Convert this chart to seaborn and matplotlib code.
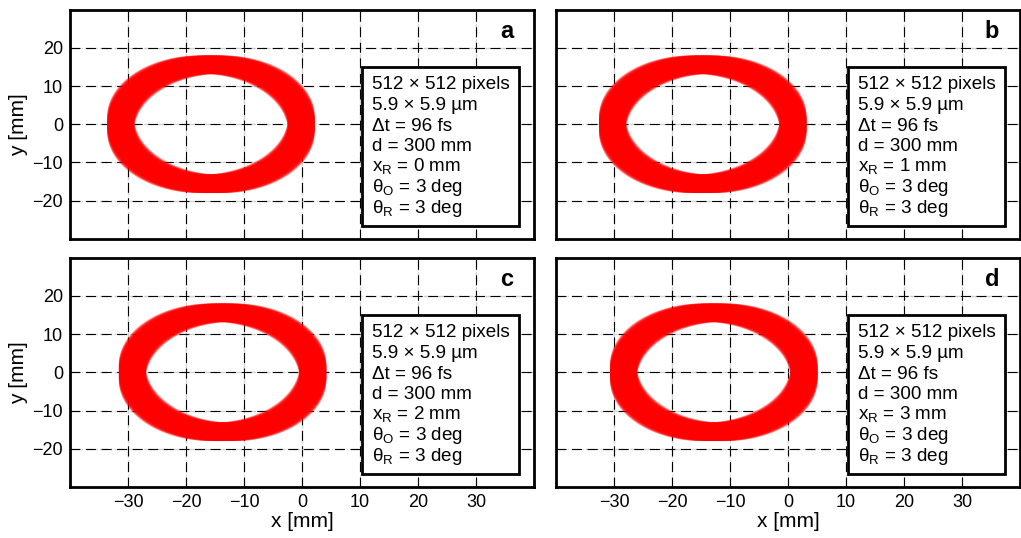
import matplotlib
matplotlib.use("Agg")
import matplotlib.pyplot as plt
from matplotlib.patches import Rectangle
import numpy as np
import pandas as pd
import seaborn as sns

# values
panel_letters = ["a", "b", "c", "d"]
x_r_mm = [0, 1, 2, 3]
ring_centre_x = [-15.7, -14.7, -13.7, -12.8]
ring_centre_y = [0.0, 0.0, 0.0, 0.0]
ring_radius = 15.6
spread_offsets = [-2.1, -1.8, -1.5, -1.2, -0.9, -0.6, -0.3, 0.0,
                  0.3, 0.6, 0.9, 1.2, 1.5, 1.8, 2.1]
x_ticks = [-30, -20, -10, 0, 10, 20, 30]
y_ticks = [-20, -10, 0, 10, 20]
x_limits = (-40, 40)
y_limits = (-30, 30)


def _ring_frame(cx: float, cy: float) -> pd.DataFrame:
    """Family of circles whose centres spread over a small square."""
    theta = np.linspace(0, 2 * np.pi, 181)
    parts = []
    k = 0
    for ox in spread_offsets:
        for oy in spread_offsets:
            parts.append(pd.DataFrame({
                "x": cx + ox + ring_radius * np.cos(theta),
                "y": cy + oy + ring_radius * np.sin(theta),
                "curve": k,
            }))
            k += 1
    return pd.concat(parts, ignore_index=True)


def _info_lines(xr: int) -> list[str]:
    return [
        "512 × 512 pixels",
        "5.9 × 5.9 µm",
        "Δt = 96 fs",
        "d = 300 mm",
        f"x$_\\mathrm{{R}}$ = {xr} mm",
        "θ$_\\mathrm{O}$ = 3 deg",
        "θ$_\\mathrm{R}$ = 3 deg",
    ]


sns.set_theme(style="white")
plt.rcParams["font.family"] = ["Liberation Sans", "DejaVu Sans"]
plt.rcParams["mathtext.fontset"] = "custom"
plt.rcParams["mathtext.rm"] = "Liberation Sans"
plt.rcParams["axes.edgecolor"] = "black"
plt.rcParams["axes.linewidth"] = 2.0
plt.rcParams["text.color"] = "black"
plt.rcParams["axes.labelcolor"] = "black"

fig = plt.figure(figsize=(10.21, 5.38), dpi=100)
lefts = [0.0686, 0.5446]
bottoms = [0.5558, 0.0948]
w, h = 0.4545, 0.4265

for i, letter in enumerate(panel_letters):
    row, col = divmod(i, 2)
    ax = fig.add_axes([lefts[col], bottoms[row], w, h])
    df = _ring_frame(ring_centre_x[i], ring_centre_y[i])
    sns.lineplot(data=df, x="x", y="y", units="curve", estimator=None,
                 sort=False, color="red", alpha=0.35, lw=1.6, ax=ax,
                 legend=False, zorder=3)

    ax.set_xlim(*x_limits)
    ax.set_ylim(*y_limits)
    ax.xaxis.remove_overlapping_locs = False
    ax.yaxis.remove_overlapping_locs = False
    ax.set_xticks(x_ticks)
    ax.set_yticks(y_ticks)
    ax.set_xticks(x_ticks, minor=True)
    ax.set_yticks(y_ticks, minor=True)
    ax.set_axisbelow(True)
    ax.grid(which="major", color="#d4d4d4", ls="-.", lw=1.0)
    ax.grid(which="minor", color="black", ls=(0, (9, 5)), lw=0.8)
    ax.tick_params(which="both", length=0, labelsize=13, pad=5,
                   labelcolor="black")

    if row == 1:
        ax.set_xlabel("x [mm]", fontsize=15, labelpad=1)
    else:
        ax.set_xlabel("")
        ax.tick_params(labelbottom=False)
    if col == 0:
        ax.set_ylabel("y [mm]", fontsize=15, labelpad=3)
    else:
        ax.set_ylabel("")
        ax.tick_params(labelleft=False)

    ax.add_patch(Rectangle((0.629, 0.057), 0.339, 0.692,
                           transform=ax.transAxes, facecolor="white",
                           edgecolor="black", lw=2.0, zorder=5))
    for j, line in enumerate(_info_lines(x_r_mm[i])):
        ax.text(0.650, 0.652 - j * 0.0898, line, transform=ax.transAxes,
                ha="left", va="baseline", fontsize=13.6, zorder=6)

    ax.text(0.955, 0.955, letter, transform=ax.transAxes, ha="right",
            va="top", fontsize=17, fontweight="bold", zorder=6)

fig.savefig("out.png", dpi=100)
plt.close(fig)
